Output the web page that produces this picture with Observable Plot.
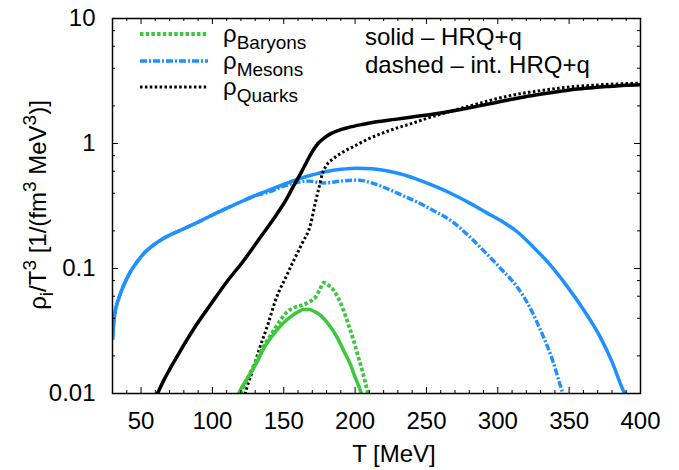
<!DOCTYPE html>
<html><head><meta charset="utf-8">
<script src="https://cdn.jsdelivr.net/npm/d3@7"></script>
<script src="https://cdn.jsdelivr.net/npm/@observablehq/plot@0.6"></script>
<style>body{margin:0;background:#fff} #chart svg{display:block}</style>
</head><body><div id="chart"></div>
<script>
// ---- data (T [MeV], rho_i/T^3) ----
const mesonsHRQ = [[30,0.027],[31,0.038],[32,0.046],[34,0.056],[36,0.065],[40,0.083],[43,0.096],[47,0.112],[52,0.132],[60,0.158],[70,0.185],[80,0.208],[90,0.235],[100,0.268],[110,0.303],[122,0.35],[134,0.40],[145,0.448],[157,0.505],[169,0.557],[180,0.598],[190,0.622],[201,0.635],[212,0.628],[222,0.605],[232,0.57],[245,0.51],[257,0.45],[267,0.40],[280,0.335],[292,0.28],[302,0.242],[314,0.195],[325,0.148],[337,0.106],[349,0.071],[360,0.047],[372,0.028],[380,0.018],[388,0.0105],[391,0.009]];
const mesonsInt = [[30,0.027],[31,0.038],[32,0.046],[34,0.056],[36,0.065],[40,0.083],[43,0.096],[47,0.112],[52,0.132],[60,0.158],[70,0.185],[80,0.208],[90,0.235],[100,0.268],[110,0.303],[122,0.35],[130,0.382],[140,0.41],[150,0.455],[160,0.49],[168,0.50],[178,0.483],[190,0.50],[201,0.51],[210,0.49],[220,0.447],[232,0.39],[243.5,0.34],[255,0.29],[267,0.242],[278,0.19],[290,0.139],[302,0.10],[313.6,0.071],[322,0.05],[330,0.032],[338,0.019],[345,0.0105],[347,0.009]];
const quarksHRQ = [[60,0.0092],[61.5,0.01],[66,0.0128],[71,0.0163],[76,0.0205],[87,0.033],[99,0.052],[110,0.078],[122,0.116],[134,0.18],[145,0.27],[152,0.36],[157,0.46],[162,0.58],[166,0.71],[170,0.86],[174,1.0],[178,1.1],[183,1.2],[188,1.27],[195,1.34],[205,1.42],[215,1.49],[228,1.56],[240,1.63],[252,1.7],[262,1.77],[274,1.87],[286,1.99],[298,2.12],[309,2.25],[320,2.38],[332,2.5],[344,2.62],[356,2.73],[368,2.81],[380,2.87],[390,2.92],[400,2.95]];
const quarksInt = [[122,0.009],[124,0.011],[128,0.015],[132.5,0.022],[139,0.036],[145,0.059],[151,0.083],[157,0.116],[163,0.16],[168.8,0.225],[172,0.33],[175,0.46],[177,0.57],[180,0.67],[185,0.76],[192,0.86],[200,0.96],[208,1.07],[220,1.22],[232,1.36],[240,1.45],[251,1.6],[262,1.74],[274,1.91],[286,2.08],[297,2.25],[309,2.42],[320,2.55],[332,2.67],[344,2.78],[356,2.87],[370,2.94],[385,3.0],[400,3.04]];
const baryonsHRQ = [[117,0.009],[118.5,0.01],[125,0.0135],[131.4,0.018],[137,0.024],[143,0.030],[149,0.036],[154.7,0.041],[160,0.045],[164,0.047],[168,0.047],[172,0.045],[176,0.042],[182,0.035],[187.5,0.028],[192,0.022],[196.8,0.017],[200,0.0135],[203.8,0.0105],[205,0.0095]];
const baryonsInt = [[118,0.009],[119.7,0.01],[125,0.0135],[131,0.0185],[137,0.025],[143,0.032],[148,0.039],[152.4,0.045],[158,0.049],[163,0.051],[166.4,0.053],[170,0.056],[172.3,0.059],[175,0.067],[178,0.077],[181,0.074],[185,0.067],[188.5,0.057],[192,0.046],[195.5,0.035],[199,0.0265],[202,0.02],[205,0.0153],[208.5,0.0106],[209.5,0.0095]];

const xMajor = [50,100,150,200,250,300,350,400];
const xMinor = [40,60,70,80,90,110,120,130,140,160,170,180,190,210,220,230,240,260,270,280,290,310,320,330,340,360,370,380,390];
const yMajor = [0.01,0.1,1,10];
const yMajorLabels = ["0.01","0.1","1","10"];
const yMinor = [0.02,0.04,0.06,0.08,0.2,0.4,0.6,0.8,2,4,6,8];

const GREEN = "#3cc83c", BLUE = "#1e90ff", BLACK = "#000";
const W = 679, H = 470, mL = 112, mR = 39, mT = 18, mB = 77;
const iw = W - mL - mR, ih = H - mT - mB;

const DASH_B = "3.5,2.2", DASH_M = "7,2,2,2", DASH_Q = "2.5,2.4";

const rows = p => p.map(([T, v]) => ({T, v}));
const line = (p, o) => Plot.line(rows(p), {x: "T", y: "v", clip: true, curve: "monotone-x", strokeLinejoin: "round", strokeLinecap: "butt", ...o});

const chart = Plot.plot({
  width: W, height: H,
  marginLeft: mL, marginRight: mR, marginTop: mT, marginBottom: mB,
  x: {domain: [30, 400], axis: null},
  y: {type: "log", domain: [0.01, 10], axis: null},
  style: {fontFamily: "'Liberation Sans', Arial, Helvetica, sans-serif", fontSize: "24px", background: "#fff", color: "#000", overflow: "visible"},
  marks: [
    line(mesonsInt, {stroke: BLUE, strokeWidth: 3.4, strokeDasharray: DASH_M}),
    line(mesonsHRQ, {stroke: BLUE, strokeWidth: 3.5}),
    line(quarksInt, {stroke: BLACK, strokeWidth: 3, strokeDasharray: DASH_Q}),
    line(quarksHRQ, {stroke: BLACK, strokeWidth: 3.5}),
    line(baryonsInt, {stroke: GREEN, strokeWidth: 3.8, strokeDasharray: DASH_B}),
    line(baryonsHRQ, {stroke: GREEN, strokeWidth: 3.5}),
    Plot.tickX(xMinor, {x: d => d, insetTop: ih - 3, stroke: BLACK}),
    Plot.tickX(xMinor, {x: d => d, insetBottom: ih - 3, stroke: BLACK}),
    Plot.tickX(xMajor, {x: d => d, insetTop: ih - 6, stroke: BLACK}),
    Plot.tickX(xMajor, {x: d => d, insetBottom: ih - 6, stroke: BLACK}),
    Plot.tickY(yMinor, {y: d => d, insetRight: iw - 3, stroke: BLACK}),
    Plot.tickY(yMinor, {y: d => d, insetLeft: iw - 3, stroke: BLACK}),
    Plot.tickY(yMajor, {y: d => d, insetRight: iw - 6, stroke: BLACK}),
    Plot.tickY(yMajor, {y: d => d, insetLeft: iw - 6, stroke: BLACK}),
    Plot.frame({stroke: BLACK, strokeWidth: 1.5}),
    Plot.text(xMajor, {x: d => d, text: d => String(d), frameAnchor: "bottom", dy: 35, lineAnchor: "bottom", fontSize: 24, fill: BLACK}),
    Plot.text(yMajor, {y: d => d, text: (d, i) => yMajorLabels[i], frameAnchor: "left", dx: -17, textAnchor: "end", lineAnchor: "middle", fontSize: 24, fill: BLACK})
  ]
});
document.getElementById("chart").appendChild(chart);

// ---- axis titles, legend and notes ----
const svg = d3.select(chart);
const font = "'Liberation Sans', Arial, Helvetica, sans-serif";
const txt = (x, y, anchor) => svg.append("text").attr("x", x).attr("y", y).attr("text-anchor", anchor)
  .attr("font-family", font).attr("font-size", 24).attr("fill", "#000");

txt(394, 462, "middle").text("T [MeV]");

const yl = svg.append("text").attr("transform", "translate(46,205) rotate(-90)")
  .attr("text-anchor", "middle").attr("font-family", font).attr("font-size", 24).attr("fill", "#000");
const parts = [["ρ", 0, 24], ["i", 7, 19], ["/T", -7, 24], ["3", -10, 19], [" [1/(fm", 10, 24], ["3", -10, 19], [" MeV", 10, 24], ["3", -10, 19], [")]", 10, 24]];
parts.forEach(([t, dy, fs]) => yl.append("tspan").attr("dy", dy).attr("font-size", fs).text(t));

const legend = [
  {name: "Baryons", stroke: GREEN, dash: DASH_B, sw: 3.8, y: 34},
  {name: "Mesons", stroke: BLUE, dash: DASH_M, sw: 3.4, y: 61},
  {name: "Quarks", stroke: BLACK, dash: DASH_Q, sw: 3, y: 87}
];
legend.forEach(d => {
  svg.append("line").attr("x1", 140).attr("x2", 208).attr("y1", d.y).attr("y2", d.y)
    .attr("stroke", d.stroke).attr("stroke-width", d.sw).attr("stroke-dasharray", d.dash).attr("stroke-linecap", "butt");
  const t = txt(223, d.y + 8, "start");
  t.append("tspan").text("ρ");
  t.append("tspan").attr("dy", 7).attr("font-size", 19).text(d.name);
});
txt(365, 45, "start").text("solid – HRQ+q");
txt(365, 73, "start").text("dashed – int. HRQ+q");
</script></body></html>
